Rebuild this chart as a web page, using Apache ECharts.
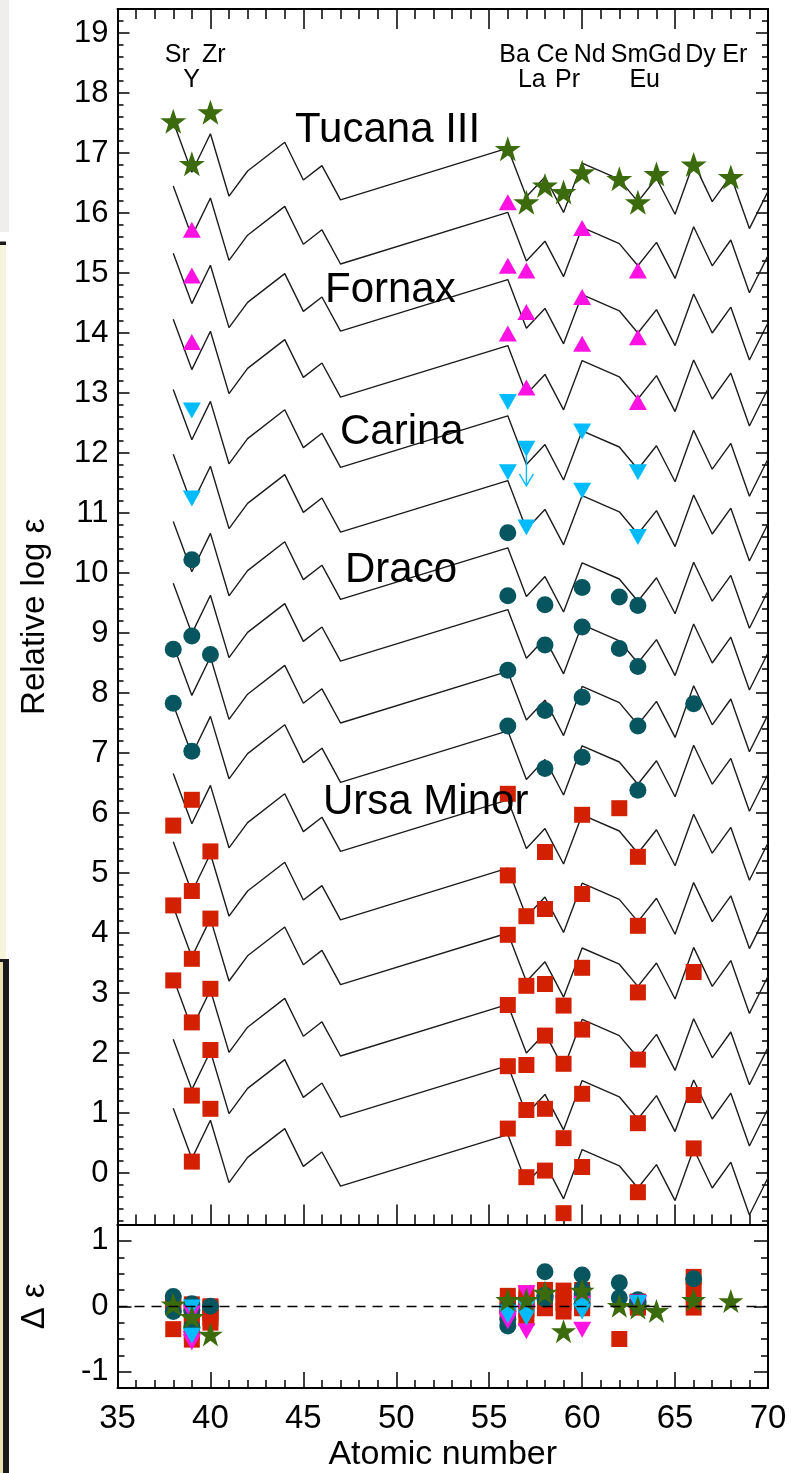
<!DOCTYPE html>
<html>
<head>
<meta charset="utf-8">
<script src="https://cdn.jsdelivr.net/npm/echarts@6/dist/echarts.min.js"></script>
<style>
  html, body { margin: 0; padding: 0; background: #fff; }
  #chart { width: 803px; height: 1473px; }
</style>
</head>
<body>
<div id="chart"></div>
<script>
// ---- Scaled solar r-process pattern -------------------------------------
// Atomic numbers of the elements in the pattern and log eps relative to Eu
const patternZ = [38, 39, 40, 41, 42, 44, 45, 46, 47, 56, 57, 58, 59, 60, 62, 63, 64, 65, 66, 67, 68, 69, 70];
const solarRPattern = [1.33, 0.49, 1.13, 0.09, 0.51, 0.99, 0.36, 0.60, 0.03, 0.89, 0.08, 0.41, -0.18, 0.64, 0.37, 0.00, 0.39, -0.21, 0.65, 0.00, 0.43, -0.45, 0.17];
// Eu level of each plotted pattern curve, top to bottom
const curveEuLevels = [16.19, 15.12, 14.00, 12.90, 11.73, 10.65, 9.53, 8.50, 7.47, 6.48, 5.33, 4.19, 3.11, 1.92, 0.90, -0.25];

// ---- Observed (shifted) abundances: [Z, relative log eps] ---------------
const tucanaIII = [[38, 17.53], [39, 16.82], [40, 17.68], [56, 17.07], [57, 16.18], [58, 16.46], [59, 16.35], [60, 16.68], [62, 16.57], [63, 16.18], [64, 16.65], [66, 16.81], [68, 16.60]];
const fornax = [[39, 15.72], [56, 16.18], [57, 15.04], [60, 15.75], [63, 15.04],
                [39, 14.96], [56, 15.12], [57, 14.35], [60, 14.60], [63, 13.93],
                [39, 13.85], [56, 13.99], [57, 13.09], [60, 13.82], [63, 12.85]];
const carina = [[39, 12.71], [56, 12.85], [57, 12.07], [60, 12.36], [63, 11.68],
                [39, 11.24], [56, 11.68], [57, 10.76], [60, 11.37], [63, 10.60]];
const carinaUpperLimits = [[57, 12.07]];
const draco = [[38, 8.73], [38, 7.83], [39, 10.22], [39, 8.95], [39, 7.03], [40, 8.64],
               [56, 10.67], [56, 9.62], [56, 8.38], [56, 7.45],
               [58, 9.47], [58, 8.80], [58, 7.71], [58, 6.74],
               [60, 9.76], [60, 9.10], [60, 7.93], [60, 6.93],
               [62, 9.60], [62, 8.74], [63, 9.46], [63, 8.44], [63, 7.45], [63, 6.38], [66, 7.82]];
const ursaMinor = [[38, 5.79], [38, 4.46], [38, 3.21],
                   [39, 6.22], [39, 4.70], [39, 3.57], [39, 2.51], [39, 1.29], [39, 0.19],
                   [40, 5.36], [40, 4.24], [40, 3.07], [40, 2.05], [40, 1.07],
                   [56, 6.32], [56, 4.96], [56, 3.97], [56, 2.80], [56, 1.78], [56, 0.74],
                   [57, 4.28], [57, 3.12], [57, 1.80], [57, 1.05], [57, -0.07],
                   [58, 5.35], [58, 4.40], [58, 3.15], [58, 2.29], [58, 1.07], [58, 0.04],
                   [59, 2.79], [59, 1.82], [59, 0.58], [59, -0.67],
                   [60, 5.97], [60, 4.65], [60, 3.42], [60, 2.39], [60, 1.32], [60, 0.10],
                   [62, 6.08],
                   [63, 5.27], [63, 4.12], [63, 3.01], [63, 1.89], [63, 0.83], [63, -0.32],
                   [66, 3.35], [66, 1.30], [66, 0.41]];

// ---- Residuals (pattern minus observed): [Z, delta eps] -----------------
const tucanaResid = [[38, 0.03], [39, -0.16], [40, -0.43], [56, 0.10], [57, 0.10], [58, 0.21], [59, -0.38], [60, 0.24], [62, 0.01], [63, -0.02], [64, -0.07], [66, 0.10], [68, 0.08]];
const fornaxResid = [[39, -0.11], [56, -0.17], [57, 0.20], [60, 0.00], [63, 0.06],
                     [39, -0.50], [56, -0.23], [57, -0.38], [60, 0.04], [63, 0.03],
                     [39, -0.55], [56, -0.20], [57, -0.10], [60, -0.36], [63, 0.05]];
const carinaResid = [[39, -0.45], [56, -0.10], [57, -0.17], [60, 0.00], [63, 0.05],
                     [39, -0.02], [56, -0.14], [57, -0.03], [60, -0.08], [63, 0.05]];
const dracoResid = [[39, -0.32], [56, -0.30], [58, 0.53], [60, 0.48], [62, 0.36], [63, 0.07],
                    [39, 0.04], [56, -0.20], [58, 0.11], [60, 0.04], [62, 0.13], [63, 0.06],
                    [38, 0.15], [40, 0.00], [56, -0.02], [58, 0.17], [60, 0.27], [63, 0.02], [66, 0.42],
                    [38, -0.08], [39, -0.06], [56, -0.08], [58, 0.15], [60, 0.19], [63, 0.10]];
const ursaMinorResid = [[38, -0.35], [38, 0.00], [38, 0.05],
                        [39, 0.03], [39, -0.05], [39, -0.15], [39, -0.28], [39, -0.40], [39, -0.51],
                        [40, -0.02], [40, -0.10], [40, -0.18], [40, -0.25], [40, 0.00],
                        [56, 0.16], [56, -0.08], [56, 0.05], [56, 0.00], [56, 0.02], [56, -0.06],
                        [57, 0.20], [57, -0.05], [57, 0.10], [57, -0.18], [57, 0.05],
                        [58, 0.25], [58, 0.20], [58, 0.10], [58, 0.04], [58, -0.03], [58, 0.15],
                        [59, 0.24], [59, -0.08], [59, 0.14], [59, 0.05],
                        [60, 0.25], [60, 0.20], [60, 0.17], [60, 0.10], [60, 0.00], [60, -0.03],
                        [62, -0.50],
                        [63, 0.06], [63, 0.07], [63, 0.00], [63, 0.03], [63, 0.07], [63, -0.02],
                        [66, 0.45], [66, 0.25], [66, -0.02]];

// ---- Axis tick values and text ------------------------------------------
const xTickStep = 5;
const yMainTicks = [0, 1, 2, 3, 4, 5, 6, 7, 8, 9, 10, 11, 12, 13, 14, 15, 16, 17, 18, 19];
const yResidTicks = [-1, 0, 1];
const elementLabelsTop = [['Sr', 38], ['Zr', 40], ['Ba', 56], ['Ce', 58], ['Nd', 60], ['Sm', 62], ['Gd', 64], ['Dy', 66], ['Er', 68]];
const elementLabelsLow = [['Y', 39], ['La', 57], ['Pr', 59], ['Eu', 63]];
const galaxyNames = ['Tucana III', 'Fornax', 'Carina', 'Draco', 'Ursa Minor'];

// ---- Styling ------------------------------------------------------------
const FONT = '"Liberation Sans", Arial, Helvetica, sans-serif';
const STAR = 'path://M50,0L61.8,35.1L98.1,35.1L68.8,56.8L79.4,91.2L50,70L20.6,91.2L31.2,56.8L1.9,35.1L38.2,35.1Z';
const C_TUC = '#3c6b0d';
const C_FOR = '#ff12e2';
const C_CAR = '#00bcff';
const C_DRA = '#07555f';
const C_UMI = '#d22000';

function minorValues(lo, hi, step) {
  const out = [];
  const n = Math.round((hi - lo) / step);
  for (let i = 0; i <= n; i++) out.push(+(lo + i * step).toFixed(4));
  return out;
}
const yMainMinor = minorValues(-0.8, 19.4, 0.2);
const yResidMinor = minorValues(-1.25, 1.25, 0.25);

const axisLineStyle = { color: '#000', width: 2 };
const tickStyle = { color: '#000', width: 1.5 };

function xAxis(grid, pos, majorLen, minorLen, showTicks, showLabels) {
  return {
    type: 'value', gridIndex: grid, position: pos, min: 35, max: 70, interval: xTickStep,
    axisLine: { show: true, onZero: false, lineStyle: axisLineStyle },
    axisTick: { show: showTicks, inside: true, length: majorLen, lineStyle: tickStyle },
    minorTick: { show: showTicks, splitNumber: 5, length: minorLen, lineStyle: tickStyle },
    axisLabel: { show: showLabels, color: '#000', fontFamily: FONT, fontSize: 33, margin: 14 },
    splitLine: { show: false }, minorSplitLine: { show: false }
  };
}
function yAxis(grid, pos, min, max, ticks, len, labels) {
  return {
    type: 'value', gridIndex: grid, position: pos, min: min, max: max,
    axisLine: { show: true, onZero: false, lineStyle: axisLineStyle },
    axisTick: { show: true, inside: true, length: len, customValues: ticks, lineStyle: tickStyle },
    axisLabel: labels ? { show: true, customValues: ticks, color: '#000', fontFamily: FONT, fontSize: 31, margin: 9 } : { show: false },
    splitLine: { show: false }
  };
}

const yMain = yAxis(0, 'left', -0.86, 19.4, yMainTicks, 12, true);
yMain.name = 'Relative log ε';
yMain.nameLocation = 'middle';
yMain.nameGap = 66;
yMain.nameTextStyle = { color: '#000', fontFamily: FONT, fontSize: 33 };

const yRes = yAxis(1, 'left', -1.25, 1.25, yResidTicks, 14, true);
yRes.name = 'Δ ε';
yRes.nameLocation = 'middle';
yRes.nameGap = 66;
yRes.nameTextStyle = { color: '#000', fontFamily: FONT, fontSize: 33 };

const xRes = xAxis(1, 'bottom', 16, 8, true, true);
xRes.name = 'Atomic number';
xRes.nameLocation = 'middle';
xRes.nameGap = 50;
xRes.nameTextStyle = { color: '#000', fontFamily: FONT, fontSize: 34 };

// ---- Series ---------------------------------------------------------------
const series = [];

// scaled solar r-process curves
curveEuLevels.forEach(function (lvl) {
  series.push({
    type: 'line', xAxisIndex: 0, yAxisIndex: 0, silent: true, symbol: 'none', z: 2,
    lineStyle: { color: '#1c1c1c', width: 1.4 },
    data: patternZ.map(function (z, i) { return [z, +(solarRPattern[i] + lvl).toFixed(3)]; })
  });
});

// upper-limit arrow (drawn under its marker)
series.push({
  type: 'custom', xAxisIndex: 0, yAxisIndex: 0, silent: true, z: 3,
  data: carinaUpperLimits,
  renderItem: function (params, api) {
    const p = api.coord([api.value(0), api.value(1)]);
    const st = { stroke: C_CAR, lineWidth: 1.4, fill: null };
    return {
      type: 'group',
      children: [
        { type: 'line', shape: { x1: p[0], y1: p[1], x2: p[0], y2: p[1] + 37 }, style: st },
        { type: 'polyline', shape: { points: [[p[0] - 7, p[1] + 25], [p[0], p[1] + 37], [p[0] + 7, p[1] + 25]] }, style: st }
      ]
    };
  }
});

function scatter(xi, yi, data, symbol, size, color, rotate, z) {
  return {
    type: 'scatter', xAxisIndex: xi, yAxisIndex: yi, data: data, symbol: symbol,
    symbolSize: size, symbolRotate: rotate || 0, silent: true, z: z || 4,
    itemStyle: { color: color, opacity: 1 }
  };
}

// main panel markers
series.push(scatter(0, 0, ursaMinor, 'rect', 16, C_UMI));
series.push(scatter(0, 0, draco, 'circle', 17, C_DRA));
series.push(scatter(0, 0, carina, 'triangle', [18, 16], C_CAR, 180));
series.push(scatter(0, 0, fornax, 'triangle', [18, 16], C_FOR));
series.push(scatter(0, 0, tucanaIII, STAR, [26, 25], C_TUC));

// residual panel markers
const umiRes = scatter(2, 4, ursaMinorResid, 'rect', 16, C_UMI);
umiRes.markLine = {
  silent: true, symbol: 'none', label: { show: false },
  lineStyle: { color: '#000', width: 1.3, type: [10, 7] },
  data: [{ yAxis: 0 }]
};
series.push(umiRes);
series.push(scatter(2, 4, dracoResid, 'circle', 17, C_DRA));
series.push(scatter(2, 4, fornaxResid, 'triangle', [18, 16], C_FOR, 180));
series.push(scatter(2, 4, carinaResid, 'triangle', [18, 16], C_CAR, 180));
series.push(scatter(2, 4, tucanaResid, STAR, [25, 24], C_TUC));

const chart = echarts.init(document.getElementById('chart'), null, { renderer: 'canvas', width: 803, height: 1473 });

chart.setOption({
  animation: false,
  backgroundColor: '#fff',
  grid: [
    { left: 117.5, top: 9, width: 650.5, height: 1215.6 },
    { left: 117.5, top: 1224.6, width: 650.5, height: 164.4 }
  ],
  xAxis: [
    xAxis(0, 'bottom', 20, 10, true, false),
    xAxis(0, 'top', 20, 10, true, false),
    xRes,
    xAxis(1, 'top', 16, 8, false, false)
  ],
  yAxis: [
    yMain,
    yAxis(0, 'left', -0.86, 19.4, yMainMinor, 6, false),
    yAxis(0, 'right', -0.86, 19.4, yMainTicks, 12, false),
    yAxis(0, 'right', -0.86, 19.4, yMainMinor, 6, false),
    yRes,
    yAxis(1, 'left', -1.25, 1.25, yResidMinor, 7, false),
    yAxis(1, 'right', -1.25, 1.25, yResidTicks, 14, false),
    yAxis(1, 'right', -1.25, 1.25, yResidMinor, 7, false)
  ],
  series: series
});

// ---- Text annotations ------------------------------------------------------
const graphics = [];

// strip of the surrounding page on the left edge
graphics.push({ type: 'rect', shape: { x: 0, y: 0, width: 9, height: 232 }, style: { fill: '#efeeec' }, silent: true });
graphics.push({ type: 'rect', shape: { x: 0, y: 241.5, width: 6, height: 3.5 }, style: { fill: '#1a1a1a' }, silent: true });
graphics.push({ type: 'rect', shape: { x: 0, y: 245, width: 6, height: 714 }, style: { fill: '#f6f4dd' }, silent: true });
graphics.push({ type: 'rect', shape: { x: 0, y: 959, width: 9, height: 514 }, style: { fill: '#1a1a1a' }, silent: true });
graphics.push({ type: 'rect', shape: { x: 0, y: 962, width: 3, height: 511 }, style: { fill: '#e9e3b2' }, silent: true });

function addText(txt, x, y, size) {
  graphics.push({
    type: 'text', x: x, y: y, silent: true, z: 10,
    style: {
      text: txt, fill: '#000', font: size + 'px ' + FONT,
      textAlign: 'left', textVerticalAlign: 'middle', align: 'left', verticalAlign: 'middle'
    }
  });
}

// element symbols above the pattern
elementLabelsTop.forEach(function (e) {
  addText(e[0], chart.convertToPixel({ xAxisIndex: 0 }, e[1]) - 8.5, 55.5, 25);
});
elementLabelsLow.forEach(function (e) {
  addText(e[0], chart.convertToPixel({ xAxisIndex: 0 }, e[1]) - 8.5, 80, 25);
});

// galaxy names
const galaxyLabelPos = [[295, 130], [325, 290], [340, 432], [345, 570], [323, 802]];
galaxyNames.forEach(function (n, i) {
  addText(n, galaxyLabelPos[i][0], galaxyLabelPos[i][1], 42);
});

chart.setOption({ graphic: graphics });
</script>
</body>
</html>
